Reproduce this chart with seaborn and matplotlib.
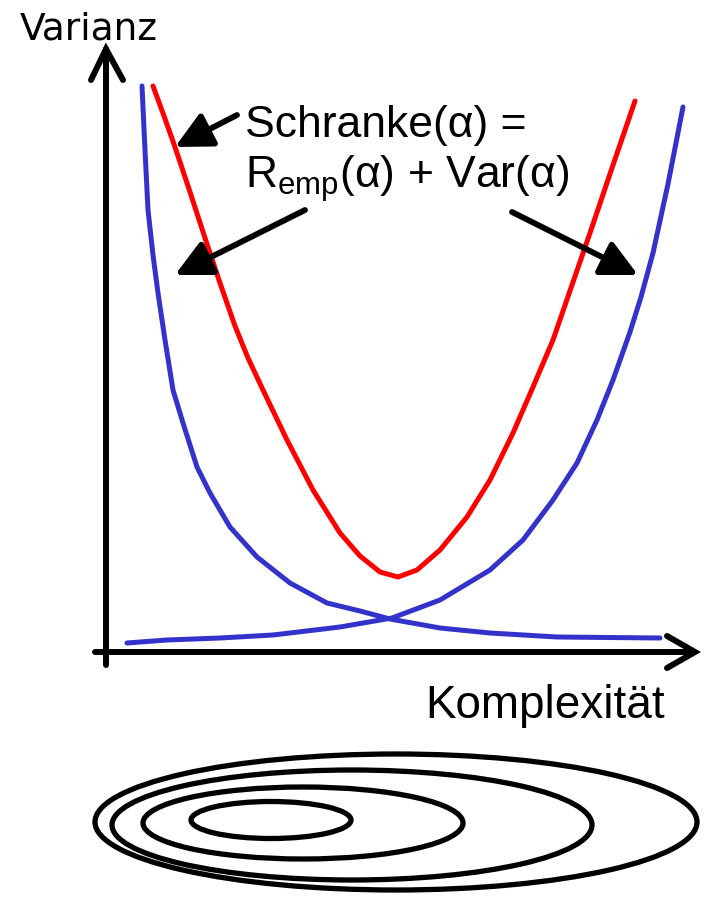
import matplotlib
matplotlib.use("Agg")
import matplotlib.pyplot as plt
from matplotlib.patches import Ellipse
import seaborn as sns

# curves (complexity on x, variance on y, arbitrary units)
low_x = [36, 39, 42, 47, 52, 59, 67, 77, 91, 104, 124, 151, 184, 221, 254, 284, 334, 384, 451, 554]
low_y = [566, 502, 442, 397, 359, 312, 262, 229, 185, 159, 125, 95, 69, 49, 41, 33, 24, 19, 15, 14]

bound_x = [47, 58, 69, 84, 99, 114, 129, 142, 157, 181, 207, 234, 254, 274, 292,
           311, 334, 361, 384, 407, 427, 447, 466, 484, 506, 529]
bound_y = [566, 536, 505, 460, 414, 369, 326, 294, 262, 212, 162, 119, 96, 80, 75,
           82, 102, 135, 172, 219, 265, 312, 367, 419, 484, 551]

high_x = [21, 61, 114, 167, 234, 286, 334, 384, 417, 447, 471, 491, 507, 524, 535, 547, 562, 577]
high_y = [9, 12, 14, 17, 25, 34, 52, 82, 112, 152, 189, 232, 272, 320, 355, 399, 468, 545]

# nested level sets below the chart
ring_cx = [290, 246, 197, 165]
ring_cy = [-170, -173, -171, -168]
ring_w = [602, 480, 320, 160]
ring_h = [136, 110, 72, 37]

sns.set_theme(style="white")
plt.rcParams['font.family'] = ['Liberation Sans', 'DejaVu Sans']
plt.rcParams['mathtext.fontset'] = 'custom'
plt.rcParams['mathtext.rm'] = 'Liberation Sans'
plt.rcParams['mathtext.it'] = 'Liberation Sans:italic'

fig = plt.figure(figsize=(7.09, 8.98), dpi=100)
ax = fig.add_axes([0, 0, 1, 1])
ax.set_xlim(-106, 603)
ax.set_ylim(-246, 652)
ax.axis("off")

blue = "#3333CC"
red = "#FF0000"

sns.lineplot(x=low_x, y=low_y, color=blue, lw=3.6, ax=ax, estimator=None, sort=False,
             solid_capstyle="round")
sns.lineplot(x=high_x, y=high_y, color=blue, lw=3.6, ax=ax, estimator=None, sort=False,
             solid_capstyle="round")
sns.lineplot(x=bound_x, y=bound_y, color=red, lw=3.6, ax=ax, estimator=None, sort=False,
             solid_capstyle="round")

# axes with open arrow heads
ax.plot([0, 0], [-13, 603], color="black", lw=4.3, solid_capstyle="round")
ax.plot([-15, 0, 17], [572, 603, 572], color="black", lw=4.3,
        solid_capstyle="round", solid_joinstyle="miter")
ax.plot([-11, 587], [0, 0], color="black", lw=4.3, solid_capstyle="round")
ax.plot([561, 589, 561], [16, 0, -16], color="black", lw=4.3,
        solid_capstyle="round", solid_joinstyle="miter")

ax.text(-86, 612, "Varianz", fontsize=27, family=["DejaVu Sans"], ha="left",
        va="baseline", color="black")
ax.text(319, -66, "Komplexität", fontsize=33, ha="left", va="baseline", color="black")

ax.text(139, 515, "Schranke(α) =", fontsize=32, ha="left", va="baseline", color="black")
ax.text(139, 464, r"R$_{\mathrm{emp}}$(α) + Var(α)", fontsize=32, ha="left",
        va="baseline", color="black")

arrow = dict(arrowstyle="-|>,head_length=1.1,head_width=0.55", color="black", lw=4.2,
             shrinkA=0, shrinkB=0, mutation_scale=20, capstyle="round")
ax.annotate("", xy=(69, 505), xytext=(131, 537), arrowprops=arrow)
ax.annotate("", xy=(69, 377), xytext=(199, 442), arrowprops=arrow)
ax.annotate("", xy=(532, 377), xytext=(406, 440), arrowprops=arrow)

for cx, cy, w, h in zip(ring_cx, ring_cy, ring_w, ring_h):
    ax.add_patch(Ellipse((cx, cy), w, h, fill=False, edgecolor="black", lw=3.8))

fig.savefig("out.png", dpi=100)
